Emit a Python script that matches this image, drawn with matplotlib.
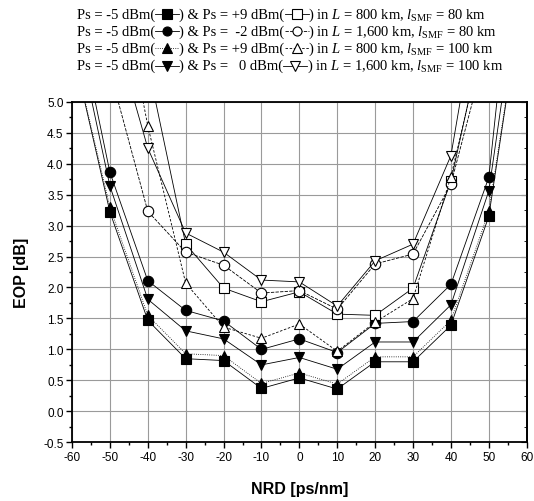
import numpy as np
import matplotlib
matplotlib.use('Agg')
import matplotlib.pyplot as plt
from matplotlib.lines import Line2D
from matplotlib.ticker import MultipleLocator

# NRD 值 (ps/nm)
nrd = [-60, -50, -40, -30, -20, -10, 0, 10, 20, 30, 40, 50, 60]

# Ps = -5 dBm 的四组 (实心符号), 两端点超出图框只为画出出框的线
eop_sq_f = [5.9, 3.22, 1.47, 0.85, 0.82, 0.37, 0.54, 0.36, 0.80, 0.80, 1.39, 3.15, 7.2]
eop_ci_f = [6.8, 3.86, 2.11, 1.63, 1.46, 1.00, 1.17, 0.95, 1.42, 1.45, 2.05, 3.78, 9.5]
eop_tu_f = [5.9, 3.30, 1.55, 0.93, 0.90, 0.45, 0.62, 0.44, 0.88, 0.88, 1.47, 3.23, 7.2]
eop_td_f = [6.5, 3.64, 1.81, 1.30, 1.17, 0.75, 0.87, 0.68, 1.12, 1.12, 1.72, 3.56, 7.8]

# 优化功率的四组 (空心符号), -60 和 60 不画
eop_sq_o = [None, 8.0, 5.6, 2.70, 1.99, 1.77, 1.93, 1.57, 1.55, 1.99, 3.72, 6.5, None]
eop_ci_o = [None, 5.5, 3.23, 2.57, 2.36, 1.91, 1.95, 1.65, 2.38, 2.54, 3.67, 6.0, None]
eop_tu_o = [None, 7.8, 4.61, 2.07, 1.36, 1.18, 1.41, 0.97, 1.44, 1.82, 3.79, 6.4, None]
eop_td_o = [None, 6.4, 4.25, 2.88, 2.57, 2.12, 2.09, 1.70, 2.43, 2.70, 4.13, 7.7, None]

xticks = [-60, -50, -40, -30, -20, -10, 0, 10, 20, 30, 40, 50, 60]
yticks = [-0.5, 0.0, 0.5, 1.0, 1.5, 2.0, 2.5, 3.0, 3.5, 4.0, 4.5, 5.0]

plt.rcParams['font.family'] = ['Liberation Sans', 'DejaVu Sans']
plt.rcParams['axes.unicode_minus'] = False
plt.rcParams['mathtext.fontset'] = 'custom'
plt.rcParams['mathtext.rm'] = 'Liberation Serif'
plt.rcParams['mathtext.it'] = 'Liberation Serif:italic'

W, H = 534, 502
fig = plt.figure(figsize=(W / 100, H / 100), dpi=100)
ax = fig.add_axes([72 / W, 1 - 443.3 / H, (526.7 - 72) / W, (443.3 - 102.7) / H])

series = [
    (eop_sq_f, 's', 'black', '-'),
    (eop_ci_f, 'o', 'black', '-'),
    (eop_tu_f, '^', 'black', ':'),
    (eop_td_f, 'v', 'black', '-'),
    (eop_sq_o, 's', 'white', '-'),
    (eop_ci_o, 'o', 'white', (0, (4, 1.5))),
    (eop_tu_o, '^', 'white', (0, (3, 2))),
    (eop_td_o, 'v', 'white', '-'),
]

for vals, mk, fc, ls in series:
    x = [a for a, b in zip(nrd, vals) if b is not None]
    y = [b for b in vals if b is not None]
    ax.plot(x, y, color='black', lw=0.6, ls=ls, marker=mk, ms=7.5,
            mfc=fc, mec='black', mew=0.8, clip_on=True)

ax.set_xlim(-60, 60)
ax.set_ylim(-0.5, 5.0)
ax.set_xticks(xticks)
ax.set_yticks(yticks)
ax.set_yticklabels(['%.1f' % v for v in yticks])
ax.xaxis.set_minor_locator(MultipleLocator(5))
ax.yaxis.set_minor_locator(MultipleLocator(0.25))
ax.grid(True, which='major', color='#9a9a9a', lw=0.8)
ax.set_axisbelow(True)
for s in ax.spines.values():
    s.set_linewidth(1.3)
ax.tick_params(axis='both', which='both', labelsize=8.5, width=1.0)
ax.tick_params(axis='both', which='major', length=4, direction='out', pad=2)
ax.tick_params(axis='both', which='minor', length=2.5, direction='out')

# 右侧刻度朝里
sec = ax.secondary_yaxis('right')
sec.set_yticks(yticks)
sec.yaxis.set_minor_locator(MultipleLocator(0.25))
sec.tick_params(which='both', direction='in', labelright=False)
sec.tick_params(which='major', length=4)
sec.tick_params(which='minor', length=2.5)
sec.spines['right'].set_linewidth(1.3)

ax.set_xlabel('NRD [ps/nm]', fontsize=11.5, fontweight='bold', labelpad=13)
ax.set_ylabel('EOP [dB]', fontsize=11.5, fontweight='bold', labelpad=10)

# 顶部图例: 文字 + 小线段符号
rows = [
    ['Ps = -5 dBm(', ('s', 'black', '-'), ') & Ps = +9 dBm(', ('s', 'white', '-'),
     r') in $L$ = 800 km, $l_{\rm SMF}$ = 80 km'],
    ['Ps = -5 dBm(', ('o', 'black', '-'), ') & Ps =  -2 dBm(', ('o', 'white', (0, (4, 1.5))),
     r') in $L$ = 1,600 km, $l_{\rm SMF}$ = 80 km'],
    ['Ps = -5 dBm(', ('^', 'black', ':'), ') & Ps = +9 dBm(', ('^', 'white', (0, (3, 2))),
     r') in $L$ = 800 km, $l_{\rm SMF}$ = 100 km'],
    ['Ps = -5 dBm(', ('v', 'black', '-'), ') & Ps =   0 dBm(', ('v', 'white', '-'),
     r') in $L$ = 1,600 km, $l_{\rm SMF}$ = 100 km'],
]
row_y = [15, 32.3, 49.3, 66.7]
renderer = fig.canvas.get_renderer()
seg = 24  # 符号线段长度 (px)
for yy, parts in zip(row_y, rows):
    xp = 77.0
    yf = 1 - yy / H
    for p in parts:
        if isinstance(p, str):
            t = fig.text(xp / W, yf, p, ha='left', va='center', fontsize=10.5,
                         family=['Liberation Serif', 'DejaVu Serif'])
            xp += t.get_window_extent(renderer).width
        else:
            mk, fc, ls = p
            fig.add_artist(Line2D([xp / W, (xp + seg) / W], [yf, yf], transform=fig.transFigure,
                                  color='black', lw=0.6, ls=ls))
            fig.add_artist(Line2D([(xp + seg / 2) / W], [yf], transform=fig.transFigure,
                                  marker=mk, ms=6.5, mfc=fc, mec='black', mew=0.8, ls='none'))
            xp += seg

fig.savefig('out.png', dpi=100)
